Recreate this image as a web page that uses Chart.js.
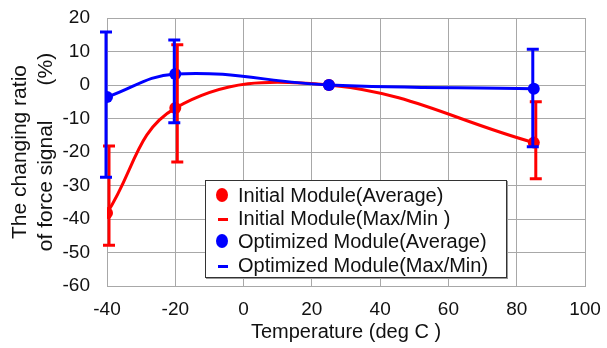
<!DOCTYPE html>
<html>
<head>
<meta charset="utf-8">
<script src="https://cdn.jsdelivr.net/npm/chart.js@4.4.0/dist/chart.umd.min.js"></script>
<style>
  body { margin: 0; background: #fff; }
  #wrap { position: relative; width: 607px; height: 348px; }
  #legend {
    position: absolute; left: 205px; top: 180px; width: 300px; height: 96px;
    border: 1px solid #333; background: #fff; box-shadow: 1px 1px 0 #999;
    font-family: "Liberation Sans", Arial, sans-serif; font-size: 20px; color: #111;
  }
  .row { position: absolute; left: 0; height: 22px; line-height: 22px; white-space: nowrap; }
  .mk { position: absolute; left: 10px; }
  .dot { width: 12px; height: 14px; border-radius: 50%; top: 4px; left: 10px; }
  .dash { width: 10px; height: 3px; top: 11px; left: 12px; }
  .txt { position: absolute; left: 32px; }
</style>
</head>
<body>
<div id="wrap">
  <canvas id="chart" width="607" height="348"></canvas>
  <div id="legend"></div>
</div>
<script>
// --- datos ---
const temps = [-40, -20, 25, 85];
const initialAvg = [-38.2, -6.9, 0, -17.2];
const initialMax = [-18.2, 12, null, -5];
const initialMin = [-47.8, -23, null, -28];
const optAvg = [-3.6, 3.3, 0, -1.1];
const optMax = [15.8, 13.4, null, 10.7];
const optMin = [-27.5, -11.3, null, -18.4];

const xTicks = [-40, -20, 0, 20, 40, 60, 80, 100];
const yTicks = [-60, -50, -40, -30, -20, -10, 0, 10, 20];

const RED = '#ff0000';
const BLUE = '#0000ff';

const legendItems = [
  { label: 'Initial Module(Average)', color: RED, kind: 'dot' },
  { label: 'Initial Module(Max/Min )', color: RED, kind: 'dash' },
  { label: 'Optimized Module(Average)', color: BLUE, kind: 'dot' },
  { label: 'Optimized Module(Max/Min)', color: BLUE, kind: 'dash' }
];

// --- leyenda en HTML ---
const legend = document.getElementById('legend');
const rowTops = [3, 26, 49, 73];
legendItems.forEach((item, i) => {
  const row = document.createElement('div');
  row.className = 'row';
  row.style.top = rowTops[i] + 'px';
  const mk = document.createElement('div');
  mk.className = 'mk ' + item.kind;
  mk.style.background = item.color;
  const txt = document.createElement('span');
  txt.className = 'txt';
  txt.textContent = item.label;
  row.appendChild(mk);
  row.appendChild(txt);
  legend.appendChild(row);
});

function toPoints(xs, ys) {
  return xs.map((x, i) => ({ x: x, y: ys[i] }));
}

// --- barras de error (max/min) ---
const errorBars = {
  id: 'errorBars',
  afterDatasetsDraw(chart) {
    const { ctx, scales: { x, y } } = chart;
    const sets = [
      { max: initialMax, min: initialMin, color: RED, off: 2 },
      { max: optMax, min: optMin, color: BLUE, off: -1 }
    ];
    ctx.save();
    ctx.lineWidth = 3;
    sets.forEach(s => {
      ctx.strokeStyle = s.color;
      temps.forEach((t, i) => {
        if (s.max[i] === null) return;
        const px = x.getPixelForValue(t) + s.off;
        const top = y.getPixelForValue(s.max[i]);
        const bot = y.getPixelForValue(s.min[i]);
        ctx.beginPath();
        ctx.moveTo(px, top); ctx.lineTo(px, bot);
        ctx.moveTo(px - 6, top); ctx.lineTo(px + 6, top);
        ctx.moveTo(px - 6, bot); ctx.lineTo(px + 6, bot);
        ctx.stroke();
      });
    });
    ctx.restore();
  }
};

const family = '"Liberation Sans", Arial, sans-serif';
const tickFont = { family: family, size: 19 };
const titleFont = { family: family, size: 20 };

new Chart(document.getElementById('chart'), {
  type: 'line',
  data: {
    datasets: [
      {
        label: 'Initial Module(Average)',
        data: toPoints(temps, initialAvg),
        borderColor: RED, backgroundColor: RED,
        borderWidth: 3, tension: 0.4,
        pointRadius: 6, pointBorderWidth: 0,
        order: 1
      },
      {
        label: 'Optimized Module(Average)',
        data: toPoints(temps, optAvg),
        borderColor: BLUE, backgroundColor: BLUE,
        borderWidth: 3, tension: 0.4,
        pointRadius: 6, pointBorderWidth: 0,
        order: 0
      }
    ]
  },
  options: {
    responsive: false,
    animation: false,
    layout: { padding: { left: 0, right: 22, top: 18, bottom: 0 } },
    plugins: { legend: { display: false }, tooltip: { enabled: false } },
    scales: {
      x: {
        type: 'linear', min: -40, max: 100,
        afterBuildTicks: s => { s.ticks = xTicks.map(v => ({ value: v })); },
        afterFit: s => { s.height = 62; },
        grid: { color: '#a8a8a8', tickLength: 12, tickColor: 'rgba(0,0,0,0)' },
        border: { color: '#a8a8a8' },
        ticks: { color: '#111', font: tickFont, padding: 0 },
        title: { display: true, text: 'Temperature (deg C )', color: '#111', font: titleFont, padding: { top: 0 } }
      },
      y: {
        min: -60, max: 20,
        afterBuildTicks: s => { s.ticks = yTicks.map(v => ({ value: v })); },
        afterFit: s => { s.width = 107; },
        grid: { color: '#a8a8a8', tickLength: 17, tickColor: 'rgba(0,0,0,0)' },
        border: { color: '#a8a8a8' },
        ticks: { color: '#111', font: tickFont, padding: 0 },
        title: {
          display: true,
          text: ['The changing ratio', 'of force signal      (%)'],
          color: '#111', font: { family: family, size: 21 }, padding: { top: 8, bottom: 0 }
        }
      }
    }
  },
  plugins: [errorBars]
});
</script>
</body>
</html>
